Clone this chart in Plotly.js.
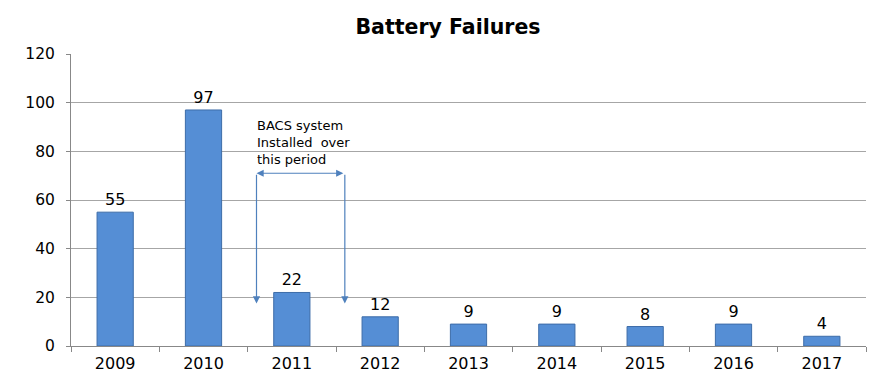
<!DOCTYPE html>
<html><head><meta charset="utf-8">
<script src="https://cdn.plot.ly/plotly-3.0.1.min.js"></script>
<style>body{margin:0;background:#fff}#c{width:896px;height:386px}</style>
</head><body><div id="c"></div>
<script>
const years = ['2009','2010','2011','2012','2013','2014','2015','2016','2017'];
const failures = [55, 97, 22, 12, 9, 9, 8, 9, 4];
const yTicks = [0, 20, 40, 60, 80, 100, 120];
const noteLines = ['BACS system', 'Installed  over', 'this period'];
const noteY = 83.8;
const periodStart = 1.6, periodEnd = 2.6, arrowY = 71, arrowBottom = 17.5;

const F = 'DejaVu Sans, Verdana, sans-serif';
const arrowColor = '#4f81bd';
const data = [{
  type: 'bar', x: years, y: failures,
  text: failures.map(String), textposition: 'outside', cliponaxis: false,
  textfont: {family: F, size: 16, color: '#000'},
  marker: {color: '#558ed5', line: {color: '#3d6ca8', width: 1}},
  width: 0.41
}];
const annotations = [
  {x: periodStart, y: arrowY, xref: 'x', yref: 'y', ax: periodEnd, ay: arrowY, axref: 'x', ayref: 'y',
   text: '', showarrow: true, arrowhead: 2, startarrowhead: 2, arrowside: 'end+start', arrowsize: 1.2, arrowwidth: 1.2,
   arrowcolor: arrowColor, standoff: 0, startstandoff: 0},
  {x: periodStart, y: arrowBottom, xref: 'x', yref: 'y', ax: periodStart, ay: arrowY, axref: 'x', ayref: 'y',
   text: '', showarrow: true, arrowhead: 2, arrowsize: 1.2, arrowwidth: 1.2, arrowcolor: arrowColor, standoff: 0},
  {x: periodEnd, y: arrowBottom, xref: 'x', yref: 'y', ax: periodEnd, ay: arrowY, axref: 'x', ayref: 'y',
   text: '', showarrow: true, arrowhead: 2, arrowsize: 1.2, arrowwidth: 1.2, arrowcolor: arrowColor, standoff: 0},
  {x: periodStart, y: noteY, xref: 'x', yref: 'y', xanchor: 'left', yanchor: 'middle', align: 'left',
   text: noteLines.join('<br>'), showarrow: false, xshift: -1, borderpad: 0,
   font: {family: F, size: 13, color: '#000'}}
];
const layout = {
  width: 896, height: 386,
  margin: {l: 71, r: 30, t: 54, b: 40},
  paper_bgcolor: '#fff', plot_bgcolor: '#fff',
  font: {family: F, size: 15, color: '#000'},
  title: {text: '<b>Battery Failures</b>', x: 0.5, xanchor: 'center', y: 0.93, yanchor: 'middle',
          font: {family: F, size: 20.5, color: '#000'}},
  showlegend: false,
  xaxis: {type: 'category', tickson: 'boundaries', ticks: 'outside', ticklen: 5, tickcolor: '#888',
          showline: true, linecolor: '#888', linewidth: 1, showgrid: false, ticklabelstandoff: 3,
          tickfont: {family: F, size: 16, color: '#000'}, range: [-0.5, 8.5]},
  yaxis: {range: [0, 120], tickvals: yTicks, ticks: 'outside', ticklen: 4, tickcolor: '#888',
          showline: true, linecolor: '#888', linewidth: 1, showgrid: true, gridcolor: '#a6a6a6', gridwidth: 1,
          zeroline: false, ticklabelstandoff: 8, tickfont: {family: F, size: 15.5, color: '#000'}},
  annotations: annotations
};
Plotly.newPlot('c', data, layout, {displayModeBar: false, staticPlot: true});
</script></body></html>
